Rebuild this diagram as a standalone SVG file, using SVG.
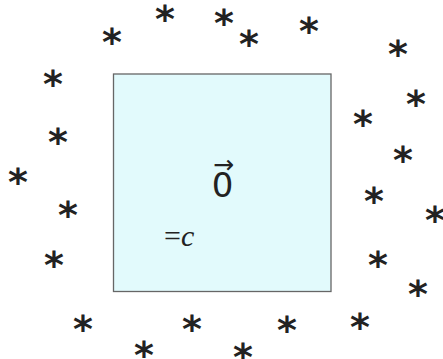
<svg xmlns="http://www.w3.org/2000/svg" width="443" height="359" viewBox="0 0 443 359">
<style>
.s{font-family:"DejaVu Sans",sans-serif;font-weight:bold;font-size:38px;fill:#222;text-anchor:middle}
.box{fill:#e2fafc;stroke:#666;stroke-width:1.3}
</style>
<rect width="443" height="359" fill="#fff"/>
<g id="box">
<rect class="box" x="113.5" y="74" width="217.5" height="217.5"/>
<text x="222.5" y="197" font-family="DejaVu Sans, sans-serif" font-size="34" fill="#222" text-anchor="middle">0</text>
<text x="223.5" y="173" font-family="DejaVu Sans, sans-serif" font-size="25" fill="#222" text-anchor="middle">→</text>
<text x="164" y="246" font-family="Liberation Serif, serif" font-size="30" fill="#222">=<tspan font-style="italic">c</tspan></text>
</g>
<g id="stars" transform="translate(0,-3)">
<text class="s" x="112" y="58">*</text>
<text class="s" x="165" y="35">*</text>
<text class="s" x="224" y="39">*</text>
<text class="s" x="249" y="60">*</text>
<text class="s" x="309" y="47">*</text>
<text class="s" x="398" y="70">*</text>
<text class="s" x="53" y="100">*</text>
<text class="s" x="416" y="120">*</text>
<text class="s" x="363" y="140">*</text>
<text class="s" x="58" y="158">*</text>
<text class="s" x="18" y="198">*</text>
<text class="s" x="68" y="231">*</text>
<text class="s" x="403" y="176">*</text>
<text class="s" x="374" y="217">*</text>
<text class="s" x="435" y="236">*</text>
<text class="s" x="54" y="281">*</text>
<text class="s" x="378" y="281">*</text>
<text class="s" x="418" y="310">*</text>
<text class="s" x="83" y="345">*</text>
<text class="s" x="192" y="345">*</text>
<text class="s" x="287" y="346">*</text>
<text class="s" x="360" y="343">*</text>
<text class="s" x="144" y="371">*</text>
<text class="s" x="243" y="373">*</text>
</g>
</svg>
